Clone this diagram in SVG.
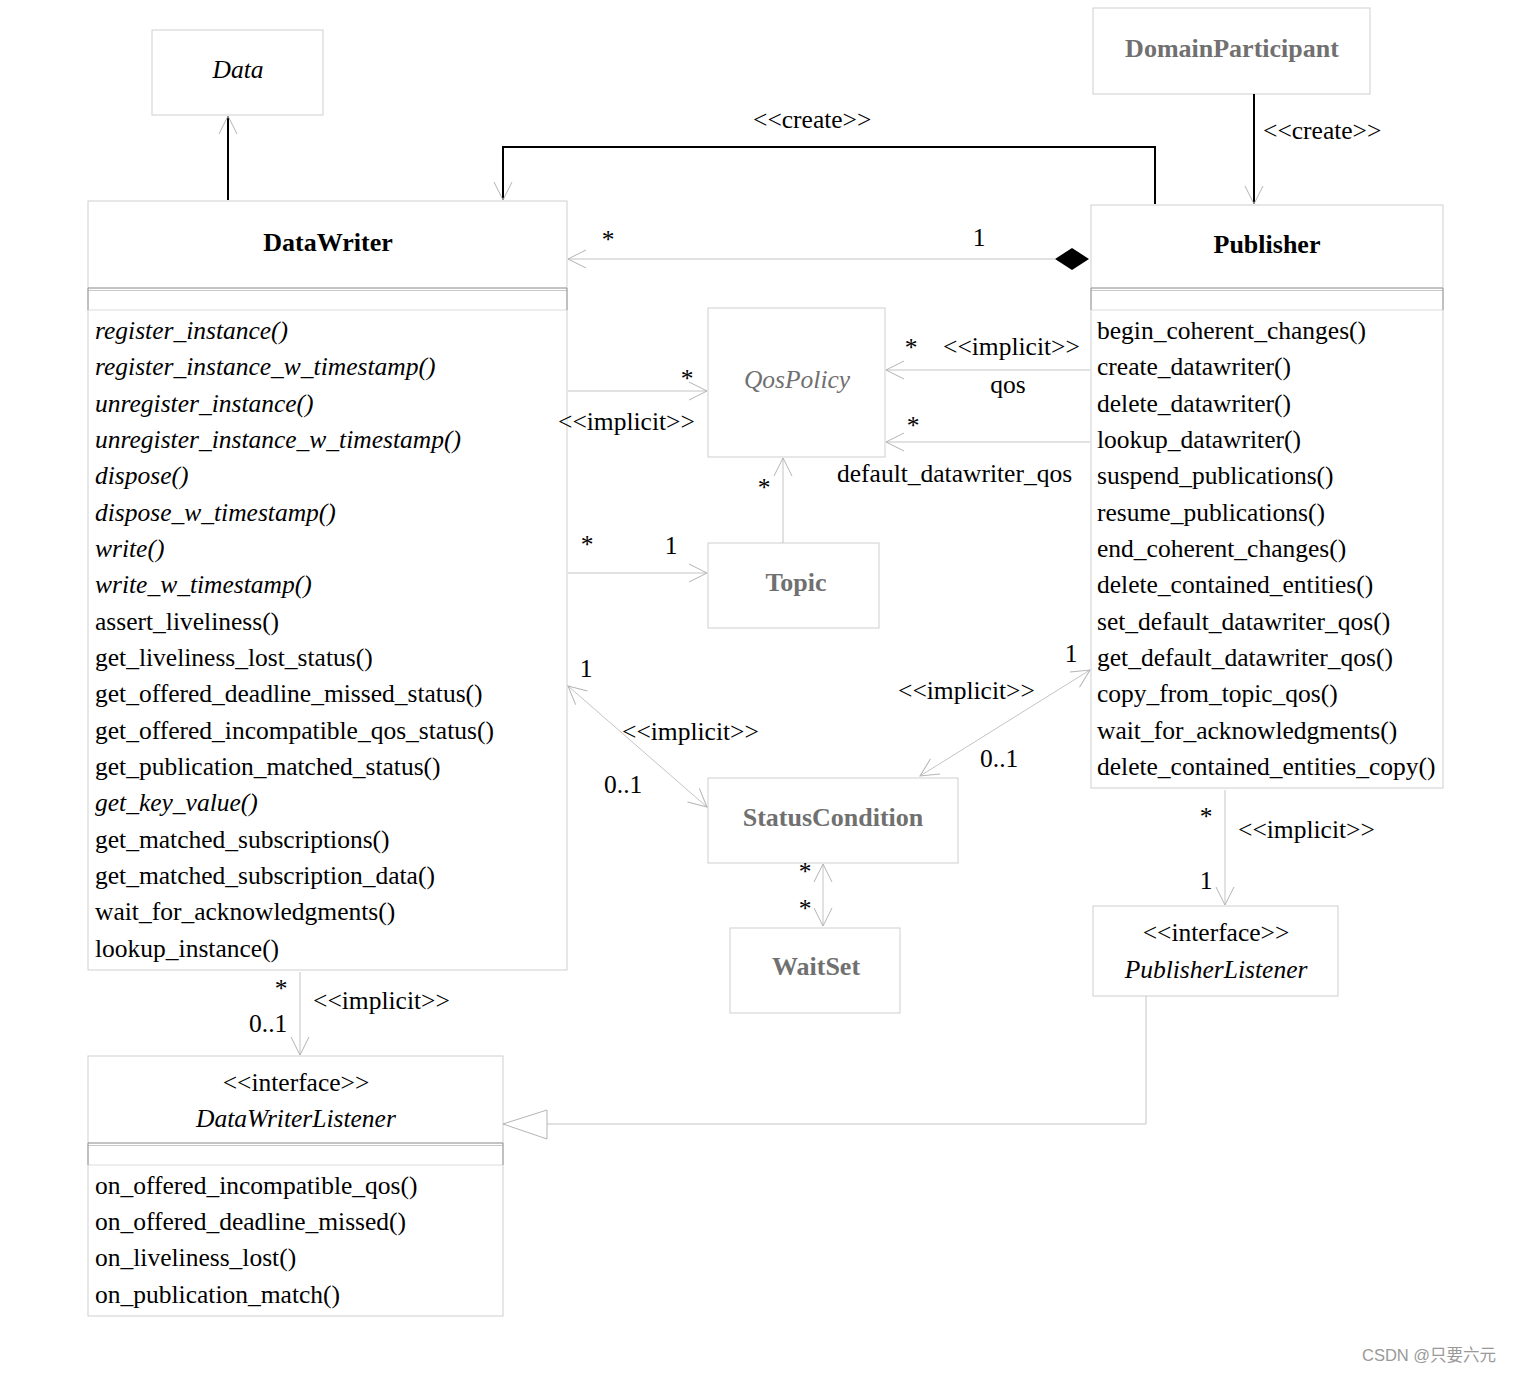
<svg xmlns="http://www.w3.org/2000/svg" width="1514" height="1373" viewBox="0 0 1514 1373">
<style>
text{font-family:"Liberation Serif","Times New Roman",serif;font-size:25.5px;fill:#000}
.b{font-weight:bold;font-size:26px}
.i{font-style:italic}
.g{fill:#707070}
.m{text-anchor:middle}
.box{fill:#fff;stroke:#cfcfcf;stroke-width:1}
.thin{fill:none;stroke:#c4c4c4;stroke-width:1}
.thick{fill:none;stroke:#000;stroke-width:2}
.wm{font-family:"Liberation Sans","Noto Sans CJK SC",sans-serif;font-size:16.5px;fill:#999}
</style>
<defs>
<marker id="a" markerUnits="userSpaceOnUse" markerWidth="40" markerHeight="40" viewBox="-20 -20 40 40" refX="0" refY="0" orient="auto-start-reverse" overflow="visible">
<path d="M-18,-9 L0,0 L-18,9" fill="none" stroke="#b4b4b4" stroke-width="1"/>
</marker>
</defs>
<rect width="1514" height="1373" fill="#fff"/>

<g id="data">
<rect class="box" x="152" y="30" width="171" height="85"/>
<text class="i m" x="238" y="78">Data</text>
</g>

<g id="domainparticipant">
<rect class="box" x="1093" y="8" width="277" height="86"/>
<text class="b g m" x="1232" y="57">DomainParticipant</text>
</g>

<g id="datawriter">
<rect class="box" x="88" y="201" width="479" height="769"/>
<line x1="88" y1="288" x2="567" y2="288" stroke="#888"/>
<line x1="88" y1="290.5" x2="567" y2="290.5" stroke="#c8c8c8"/>
<line x1="88" y1="310" x2="567" y2="310" stroke="#dcdcdc"/>
<line x1="88" y1="288" x2="88" y2="310" stroke="#999"/>
<line x1="567" y1="288" x2="567" y2="310" stroke="#999"/>
<text class="b m" x="328" y="251">DataWriter</text>
<text class="i" x="95" y="339">register_instance()</text>
<text class="i" x="95" y="375">register_instance_w_timestamp()</text>
<text class="i" x="95" y="412">unregister_instance()</text>
<text class="i" x="95" y="448">unregister_instance_w_timestamp()</text>
<text class="i" x="95" y="484">dispose()</text>
<text class="i" x="95" y="521">dispose_w_timestamp()</text>
<text class="i" x="95" y="557">write()</text>
<text class="i" x="95" y="593">write_w_timestamp()</text>
<text x="95" y="630">assert_liveliness()</text>
<text x="95" y="666">get_liveliness_lost_status()</text>
<text x="95" y="702">get_offered_deadline_missed_status()</text>
<text x="95" y="739">get_offered_incompatible_qos_status()</text>
<text x="95" y="775">get_publication_matched_status()</text>
<text class="i" x="95" y="811">get_key_value()</text>
<text x="95" y="848">get_matched_subscriptions()</text>
<text x="95" y="884">get_matched_subscription_data()</text>
<text x="95" y="920">wait_for_acknowledgments()</text>
<text x="95" y="957">lookup_instance()</text>
</g>

<g id="publisher">
<rect class="box" x="1091" y="205" width="352" height="583"/>
<line x1="1091" y1="288" x2="1443" y2="288" stroke="#888"/>
<line x1="1091" y1="290.5" x2="1443" y2="290.5" stroke="#c8c8c8"/>
<line x1="1091" y1="310" x2="1443" y2="310" stroke="#dcdcdc"/>
<line x1="1091" y1="288" x2="1091" y2="310" stroke="#999"/>
<line x1="1443" y1="288" x2="1443" y2="310" stroke="#999"/>
<text class="b m" x="1267" y="253">Publisher</text>
<text x="1097" y="339">begin_coherent_changes()</text>
<text x="1097" y="375">create_datawriter()</text>
<text x="1097" y="412">delete_datawriter()</text>
<text x="1097" y="448">lookup_datawriter()</text>
<text x="1097" y="484">suspend_publications()</text>
<text x="1097" y="521">resume_publications()</text>
<text x="1097" y="557">end_coherent_changes()</text>
<text x="1097" y="593">delete_contained_entities()</text>
<text x="1097" y="630">set_default_datawriter_qos()</text>
<text x="1097" y="666">get_default_datawriter_qos()</text>
<text x="1097" y="702">copy_from_topic_qos()</text>
<text x="1097" y="739">wait_for_acknowledgments()</text>
<text x="1097" y="775">delete_contained_entities_copy()</text>
</g>

<g id="qospolicy">
<rect class="box" x="708" y="308" width="177" height="149"/>
<text class="i g m" x="797" y="388">QosPolicy</text>
</g>

<g id="topic">
<rect class="box" x="708" y="543" width="171" height="85"/>
<text class="b g m" x="796" y="591">Topic</text>
</g>

<g id="statuscondition">
<rect class="box" x="708" y="778" width="250" height="85"/>
<text class="b g m" x="833" y="826">StatusCondition</text>
</g>

<g id="waitset">
<rect class="box" x="730" y="928" width="170" height="85"/>
<text class="b g m" x="816" y="975">WaitSet</text>
</g>

<g id="publisherlistener">
<rect class="box" x="1093" y="906" width="245" height="90"/>
<text class="m" x="1216" y="941">&lt;&lt;interface&gt;&gt;</text>
<text class="i m" x="1216" y="978">PublisherListener</text>
</g>

<g id="datawriterlistener">
<rect class="box" x="88" y="1056" width="415" height="260"/>
<line x1="88" y1="1143" x2="503" y2="1143" stroke="#888"/>
<line x1="88" y1="1145.5" x2="503" y2="1145.5" stroke="#c8c8c8"/>
<line x1="88" y1="1165" x2="503" y2="1165" stroke="#dcdcdc"/>
<line x1="88" y1="1143" x2="88" y2="1165" stroke="#999"/>
<line x1="503" y1="1143" x2="503" y2="1165" stroke="#999"/>
<text class="m" x="296" y="1091">&lt;&lt;interface&gt;&gt;</text>
<text class="i m" x="296" y="1127">DataWriterListener</text>
<text x="95" y="1194">on_offered_incompatible_qos()</text>
<text x="95" y="1230">on_offered_deadline_missed()</text>
<text x="95" y="1266">on_liveliness_lost()</text>
<text x="95" y="1303">on_publication_match()</text>
</g>

<g id="connectors">
<path class="thick" d="M228,200 V116" marker-end="url(#a)"/>
<path class="thick" d="M1155,204 V147 H503 V200" marker-end="url(#a)"/>
<path class="thick" d="M1254,94 V204" marker-end="url(#a)"/>
<path class="thin" d="M1055,259 H568" marker-end="url(#a)"/>
<polygon points="1089,259 1072,248 1055,259 1072,270" fill="#000"/>
<path class="thin" d="M568,391 H707" marker-end="url(#a)"/>
<path class="thin" d="M1090,370 H886" marker-end="url(#a)"/>
<path class="thin" d="M1090,442 H886" marker-end="url(#a)"/>
<path class="thin" d="M783,543 V458" marker-end="url(#a)"/>
<path class="thin" d="M568,573 H707" marker-end="url(#a)"/>
<path class="thin" d="M568,686 L707,807" marker-start="url(#a)" marker-end="url(#a)"/>
<path class="thin" d="M1090,670 L920,776" marker-start="url(#a)" marker-end="url(#a)"/>
<path class="thin" d="M823,864 V926" marker-start="url(#a)" marker-end="url(#a)"/>
<path class="thin" d="M1225,790 V905" marker-end="url(#a)"/>
<path class="thin" d="M300,972 V1055" marker-end="url(#a)"/>
<path class="thin" d="M1146,996 V1124 H547"/>
<polygon points="503,1124 547,1110 547,1139" fill="#fff" stroke="#b4b4b4" stroke-width="1"/>

<text x="753" y="128">&lt;&lt;create&gt;&gt;</text>
<text x="1263" y="139">&lt;&lt;create&gt;&gt;</text>
<text class="m" x="608" y="248">*</text>
<text class="m" x="979" y="246">1</text>
<text class="m" x="687" y="387">*</text>
<text x="558" y="430">&lt;&lt;implicit&gt;&gt;</text>
<text class="m" x="911" y="356">*</text>
<text x="943" y="355">&lt;&lt;implicit&gt;&gt;</text>
<text class="m" x="1008" y="393">qos</text>
<text class="m" x="913" y="434">*</text>
<text x="837" y="482">default_datawriter_qos</text>
<text class="m" x="764" y="496">*</text>
<text class="m" x="587" y="553">*</text>
<text class="m" x="671" y="554">1</text>
<text class="m" x="586" y="677">1</text>
<text x="622" y="740">&lt;&lt;implicit&gt;&gt;</text>
<text x="604" y="793">0..1</text>
<text class="m" x="1071" y="662">1</text>
<text x="898" y="699">&lt;&lt;implicit&gt;&gt;</text>
<text x="980" y="767">0..1</text>
<text class="m" x="805" y="880">*</text>
<text class="m" x="805" y="917">*</text>
<text class="m" x="1206" y="825">*</text>
<text class="m" x="1206" y="889">1</text>
<text x="1238" y="838">&lt;&lt;implicit&gt;&gt;</text>
<text class="m" x="281" y="997">*</text>
<text x="249" y="1032">0..1</text>
<text x="313" y="1009">&lt;&lt;implicit&gt;&gt;</text>
</g>

<text class="wm" x="1362" y="1361">CSDN @只要六元</text>
</svg>
